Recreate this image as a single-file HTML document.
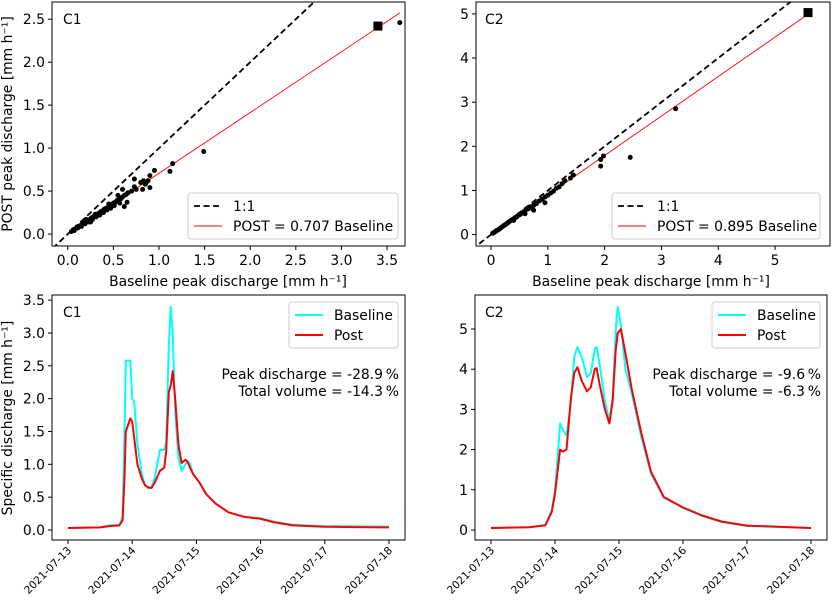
<!DOCTYPE html>
<html><head><meta charset="utf-8"><style>
body{margin:0;background:#fff}
svg{display:block;font-family:"DejaVu Sans","Liberation Sans",sans-serif}
</style></head><body>
<svg id="fig" width="838" height="601" viewBox="0 0 838 601"></svg>
<script>
// ---------- data ----------
const c1ScatterX=[0.04,0.06,0.08,0.1,0.12,0.14,0.16,0.18,0.2,0.22,0.24,0.26,0.28,0.3,0.32,0.34,0.36,0.38,0.4,0.42,0.44,0.46,0.48,0.5,0.52,0.54,0.56,0.58,0.6,0.62,0.64,0.66,0.7,0.73,0.75,0.8,0.83,0.85,0.88,0.9,0.95,1.12,1.15,1.49,3.64,0.2,0.3,0.45,0.55,0.6,0.62,0.65,0.73,0.82,0.86,0.9,0.25,0.35,0.07,0.11,0.15,0.19,0.23,0.27,0.31,0.35,0.39,0.43,0.47,0.51,0.57];
const c1ScatterY=[0.03,0.05,0.06,0.08,0.09,0.1,0.12,0.13,0.15,0.16,0.17,0.19,0.2,0.21,0.23,0.24,0.26,0.27,0.29,0.3,0.31,0.33,0.34,0.36,0.37,0.39,0.4,0.41,0.43,0.45,0.46,0.48,0.5,0.55,0.52,0.6,0.62,0.58,0.62,0.68,0.74,0.73,0.82,0.96,2.46,0.17,0.23,0.35,0.45,0.52,0.32,0.37,0.64,0.52,0.6,0.54,0.14,0.22,0.04,0.07,0.09,0.12,0.14,0.17,0.2,0.23,0.25,0.28,0.3,0.33,0.36];
const c1Square=[3.4,2.42];
const c1Slope=0.707;
const c2ScatterX=[0.03,0.06,0.1,0.14,0.18,0.22,0.26,0.3,0.34,0.38,0.42,0.46,0.5,0.55,0.6,0.65,0.7,0.75,0.8,0.85,0.9,0.95,1.0,1.05,1.1,1.2,1.25,1.3,1.4,1.45,1.93,1.93,1.98,2.45,3.25,0.6,0.75,0.8,0.95,1.15,0.4,0.08,0.12,0.16,0.2,0.24,0.28,0.32,0.36,0.44,0.52,0.58,0.68];
const c2ScatterY=[0.03,0.05,0.09,0.12,0.16,0.2,0.23,0.27,0.31,0.34,0.38,0.41,0.45,0.49,0.54,0.58,0.63,0.66,0.71,0.76,0.8,0.85,0.89,0.94,0.98,1.08,1.15,1.22,1.28,1.35,1.55,1.7,1.78,1.75,2.85,0.47,0.55,0.7,0.72,1.05,0.32,0.07,0.1,0.14,0.18,0.21,0.25,0.29,0.32,0.39,0.46,0.52,0.6];
const c2Square=[5.58,5.03];
const c2Slope=0.895;
// time series: t in days since 2021-07-13
const c1T=[0,0.5,0.65,0.8,0.85,0.88,0.9,0.97,1.0,1.03,1.08,1.15,1.2,1.25,1.3,1.35,1.4,1.43,1.5,1.53,1.57,1.6,1.63,1.67,1.72,1.77,1.83,1.87,1.9,1.95,2.05,2.15,2.3,2.5,2.75,3.0,3.2,3.5,4.0,5.0];
const c1Base=[0.03,0.04,0.07,0.08,0.2,1.5,2.58,2.58,2.0,1.95,1.3,0.85,0.68,0.63,0.65,0.8,1.05,1.22,1.22,1.35,2.8,3.4,3.0,1.8,1.1,0.9,1.0,1.05,1.0,0.85,0.72,0.55,0.4,0.27,0.2,0.18,0.13,0.08,0.06,0.05];
const c1Post=[0.03,0.04,0.06,0.07,0.15,0.8,1.5,1.7,1.65,1.4,1.0,0.78,0.68,0.65,0.64,0.72,0.83,0.9,0.95,1.2,2.1,2.2,2.42,2.0,1.3,1.02,1.07,1.02,0.95,0.85,0.72,0.55,0.4,0.27,0.2,0.17,0.12,0.07,0.05,0.04];
const c2T=[0,0.6,0.85,0.95,1.0,1.05,1.08,1.12,1.18,1.25,1.3,1.35,1.42,1.5,1.56,1.62,1.65,1.7,1.78,1.85,1.9,1.95,1.98,2.03,2.1,2.2,2.35,2.5,2.7,3.0,3.3,3.6,4.0,5.0];
const c2Base=[0.05,0.07,0.12,0.5,1.0,2.0,2.65,2.5,2.35,3.2,4.3,4.55,4.3,3.8,3.9,4.5,4.55,4.1,3.2,2.7,3.3,5.0,5.55,5.1,4.0,3.4,2.3,1.4,0.8,0.55,0.35,0.2,0.1,0.05];
const c2Post=[0.05,0.07,0.12,0.45,0.9,1.6,2.0,1.95,2.0,3.3,3.9,4.05,3.7,3.45,3.55,4.0,4.03,3.6,3.0,2.65,3.2,4.5,4.9,5.0,4.4,3.5,2.4,1.45,0.82,0.56,0.36,0.21,0.11,0.05];
const dateLabels=['2021-07-13','2021-07-14','2021-07-15','2021-07-16','2021-07-17','2021-07-18'];
const c1SX=['0.0','0.5','1.0','1.5','2.0','2.5','3.0','3.5'];
const c1SY=['0.0','0.5','1.0','1.5','2.0','2.5'];
const c2SX=['0','1','2','3','4','5'];
const c2SY=['0','1','2','3','4','5'];
const c1TY=['0.0','0.5','1.0','1.5','2.0','2.5','3.0','3.5'];
const c2TY=['0','1','2','3','4','5'];

const FS=13.9;
const NS='http://www.w3.org/2000/svg';
const fig=document.getElementById('fig');
function el(tag,attrs,parent,txt){const e=document.createElementNS(NS,tag);for(const k in attrs)e.setAttribute(k,attrs[k]);if(txt!==undefined)e.textContent=txt;(parent||fig).appendChild(e);return e;}

function panel(name,box,xdom,ydom){
  const g=el('g',{},fig);
  
  
  const sx=v=>box.x0+(v-xdom[0])/(xdom[1]-xdom[0])*(box.x1-box.x0);
  const sy=v=>box.y1-(v-ydom[0])/(ydom[1]-ydom[0])*(box.y1-box.y0);
  const cid='clip'+name;
  const cp=el('clipPath',{id:cid},g);el('rect',{x:box.x0,y:box.y0,width:box.x1-box.x0,height:box.y1-box.y0},cp);
  const plot=el('g',{'clip-path':'url(#'+cid+')'},g);
  return {g,plot,sx,sy,box};
}
function frame(p){
  const r=el('rect',{x:p.box.x0,y:p.box.y0,width:p.box.x1-p.box.x0,height:p.box.y1-p.box.y0,fill:'none',stroke:'#000','stroke-width':1},p.g);
  
  
}
function yTicks(p,labels){
  labels.forEach(l=>{const y=p.sy(parseFloat(l));
    el('line',{x1:p.box.x0-4,x2:p.box.x0,y1:y,y2:y,stroke:'#000'},p.g);
    const t=el('text',{x:p.box.x0-7,y:y+5,'font-size':FS,'text-anchor':'end'},p.g,l);
    
    });
}
function xTicks(p,labels){
  labels.forEach(l=>{const x=p.sx(parseFloat(l));
    el('line',{x1:x,x2:x,y1:p.box.y1,y2:p.box.y1+4,stroke:'#000'},p.g);
    const t=el('text',{x:x,y:p.box.y1+19,'font-size':FS,'text-anchor':'middle'},p.g,l);
    
    });
}
function dateTicks(p){
  dateLabels.forEach((l,i)=>{const x=p.sx(i);
    el('line',{x1:x,x2:x,y1:p.box.y1,y2:p.box.y1+4,stroke:'#000'},p.g);
    const t=el('text',{x:x+4,y:p.box.y1+11,'font-size':10.6,'text-anchor':'end',transform:`rotate(-45 ${x+4} ${p.box.y1+11})`},p.g,l);
    
    });
}
function line(p,xs,ys,attrs,name){
  const d=xs.map((x,i)=>(i?'L':'M')+p.sx(x).toFixed(1)+','+p.sy(ys[i]).toFixed(1)).join('');
  const e=el('path',Object.assign({d,fill:'none','stroke-linejoin':'round'},attrs),p.plot);
  
  
}
function label(p,txt,x,y){const t=el('text',{x,y,'font-size':FS},p.g,txt);
  
  }
function legend(p,x,y,w,items){
  const lg=el('g',{},p.g);
  
  
  el('rect',{x,y,width:w,height:46,rx:3,fill:'#fff','fill-opacity':0.85,stroke:'#ccc'},lg);
  items.forEach((it,i)=>{const yy=y+13+i*20;
    el('line',Object.assign({x1:x+6,x2:x+34,y1:yy,y2:yy},it.a),lg);
    const t=el('text',{x:x+45,y:yy+5,'font-size':FS},lg,it.t);
    
    });
}
function scatter(p,xs,ys,sq,slope){
  line(p,[-1,10],[-1,10],{stroke:'#000','stroke-width':1.8,'stroke-dasharray':'6,3.5'},'one-to-one-line');
  const xmax=Math.max(...xs,sq[0]);
  line(p,[0.02,xmax],[0.02*slope,xmax*slope],{stroke:'#f00','stroke-width':0.9},'fit-line');
  xs.forEach((x,i)=>{const c=el('circle',{cx:p.sx(x),cy:p.sy(ys[i]),r:2.5,fill:'#000'},p.plot);
    
    });
  const s=el('rect',{x:p.sx(sq[0])-4.5,y:p.sy(sq[1])-4.5,width:9,height:9,fill:'#000'},p.plot);
  
  
}

// Top-left
const p1=panel('scatter-c1',{x0:52,x1:405,y0:2,y1:246},[-0.173,3.697],[-0.139,2.70]);
scatter(p1,c1ScatterX,c1ScatterY,c1Square,c1Slope);
frame(p1);yTicks(p1,c1SY);xTicks(p1,c1SX);label(p1,'C1',63,24);
legend(p1,188,193,210,[{t:'1:1',a:{stroke:'#000','stroke-width':1.8,'stroke-dasharray':'6,3.5'}},{t:'POST = 0.707 Baseline',a:{stroke:'#f00','stroke-width':0.9}}]);
// Top-right
const p2=panel('scatter-c2',{x0:476,x1:830,y0:2,y1:246},[-0.264,5.967],[-0.26,5.27]);
scatter(p2,c2ScatterX,c2ScatterY,c2Square,c2Slope);
frame(p2);yTicks(p2,c2SY);xTicks(p2,c2SX);label(p2,'C2',485,24);
legend(p2,612,193,208,[{t:'1:1',a:{stroke:'#000','stroke-width':1.8,'stroke-dasharray':'6,3.5'}},{t:'POST = 0.895 Baseline',a:{stroke:'#f00','stroke-width':0.9}}]);
// Bottom-left
const p3=panel('hydrograph-c1',{x0:52,x1:405,y0:295,y1:540},[-0.25,5.25],[-0.152,3.578]);
line(p3,c1T,c1Base,{stroke:'#00ffff','stroke-width':2},'baseline-series');
line(p3,c1T,c1Post,{stroke:'#ff0000','stroke-width':2},'post-series');
frame(p3);yTicks(p3,c1TY);dateTicks(p3);label(p3,'C1',63,317);
legend(p3,289,302,109,[{t:'Baseline',a:{stroke:'#00ffff','stroke-width':2}},{t:'Post',a:{stroke:'#ff0000','stroke-width':2}}]);
// Bottom-right
const p4=panel('hydrograph-c2',{x0:475,x1:827,y0:295,y1:540},[-0.25,5.25],[-0.249,5.846]);
line(p4,c2T,c2Base,{stroke:'#00ffff','stroke-width':2},'baseline-series');
line(p4,c2T,c2Post,{stroke:'#ff0000','stroke-width':2},'post-series');
frame(p4);yTicks(p4,c2TY);dateTicks(p4);label(p4,'C2',485,317);
legend(p4,712,302,108,[{t:'Baseline',a:{stroke:'#00ffff','stroke-width':2}},{t:'Post',a:{stroke:'#ff0000','stroke-width':2}}]);

// annotations & axis titles
function txt(s,x,y,anchor,name,extra){const t=el('text',Object.assign({x,y,'font-size':FS,'text-anchor':anchor},extra||{}),fig,s);
  
  }
txt('Peak discharge = -28.9\u2009%',399,379,'end','peak-annotation');
txt('Total volume = -14.3\u2009%',399,396,'end','volume-annotation');
txt('Peak discharge = -9.6\u2009%',821,379,'end','peak-annotation');
txt('Total volume = -6.3\u2009%',821,396,'end','volume-annotation');
txt('Baseline peak discharge [mm h\u207B\u00B9]',228,286,'middle','x-axis-title');
txt('Baseline peak discharge [mm h\u207B\u00B9]',651,286,'middle','x-axis-title');
txt('POST peak discharge [mm h\u207B\u00B9]',12,124,'middle','y-axis-title',{transform:'rotate(-90 12 124)'});
txt('Specific discharge [mm h\u207B\u00B9]',12,418,'middle','y-axis-title',{transform:'rotate(-90 12 418)'});
</script>
</body></html>
